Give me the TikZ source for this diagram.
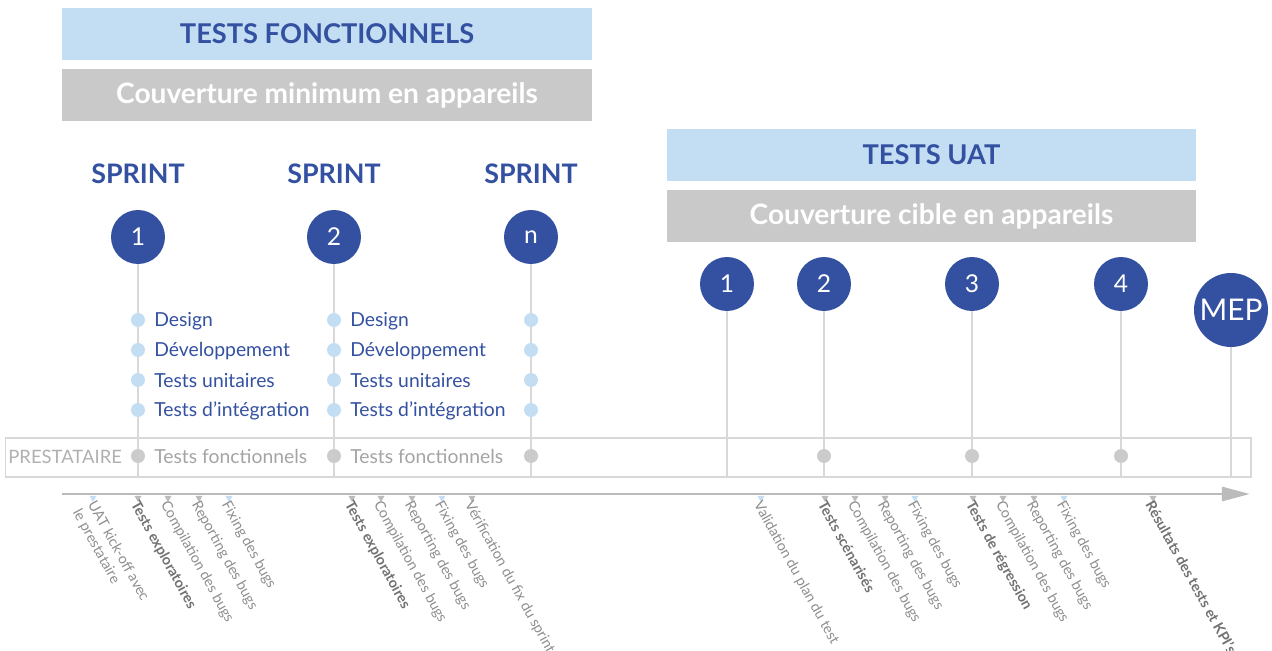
\documentclass[tikz,border=0pt]{standalone}
\usepackage{fontspec}
\setmainfont{Lato}
\usetikzlibrary{arrows.meta,shapes.geometric}
\definecolor{bleufonce}{HTML}{3451A1}
\definecolor{bleuclair}{HTML}{C3DDF3}
\definecolor{grisbox}{HTML}{C9C9C9}
\definecolor{grispuce}{HTML}{CBCBCB}
\definecolor{grisligne}{HTML}{D8D8D8}
\definecolor{grisaxe}{HTML}{BBBBBB}
\definecolor{gristexte}{HTML}{8E8E8E}
\tikzset{
  bandeau/.style={fill=bleuclair, text=bleufonce, minimum width=10.6cm, minimum height=1.04cm,
    inner sep=0pt, font=\bfseries\fontsize{15.5}{15.5}\selectfont},
  couverture/.style={bandeau, fill=grisbox, text=white, font=\bfseries\fontsize{16}{16}\selectfont},
  sprint/.style={text=bleufonce, font=\bfseries\fontsize{15.3}{15.3}\selectfont},
  jalon/.style={circle, fill=bleufonce, text=white, minimum size=1.08cm, inner sep=0pt,
    font=\fontsize{14}{14}\selectfont},
  tige/.style={draw=grisligne, line width=0.9pt},
  puce/.style={circle, fill=#1, minimum size=0.28cm, inner sep=0pt},
  tache/.style={anchor=west, text=bleufonce, inner sep=0pt, font=\fontsize{11}{11}\selectfont},
  repere/.style={regular polygon, regular polygon sides=3, shape border rotate=180,
    fill=#1, minimum size=0.16cm, inner sep=0pt},
  etiq/.style={anchor=north west, rotate=-61, inner sep=0pt, align=left, text=gristexte,
    font=\fontsize{8.2}{9.8}\selectfont},
  etiqgras/.style={etiq, text=gristexte!80!black, font=\bfseries\fontsize{8.2}{9.8}\selectfont}
}
\begin{document}
\begin{tikzpicture}[x=0.02cm,y=-0.02cm]
  \useasboundingbox (0,0) rectangle (1272,651);

  % bandeaux du haut
  \node[bandeau] (tf) at (327,34) {TESTS FONCTIONNELS};
  \node[couverture] (cmin) at (327,95) {Couverture minimum en appareils};
  \node[bandeau] (uat) at (931.5,155) {TESTS UAT};
  \node[couverture] (ccib) at (931.5,216) {Couverture cible en appareils};

  % ligne prestataire
  \node[draw=grisligne, line width=0.7pt, minimum width=24.92cm, minimum height=0.78cm,
    inner sep=0pt] (presta) at (628,457.5) {};
  \node[anchor=west, inner sep=0pt, text=gristexte!70!white, font=\fontsize{10.5}{10.5}\selectfont]
    (pl) at (8,457) {PRESTATAIRE};

  % sprints
  \node[sprint] (sp1) at (138,174) {SPRINT};
  \node[sprint] (sp2) at (334,174) {SPRINT};
  \node[sprint] (spn) at (531,174) {SPRINT};
  \node[jalon] (s1) at (138,237) {1};
  \node[jalon] (s2) at (334,237) {2};
  \node[jalon] (sn) at (531,237) {n};

  % recette UAT
  \node[jalon] (u1) at (727,284) {1};
  \node[jalon] (u2) at (824,284) {2};
  \node[jalon] (u3) at (972,284) {3};
  \node[jalon] (u4) at (1121,284) {4};
  \node[jalon, minimum size=1.48cm, font=\fontsize{17}{17}\selectfont] (mep) at (1231,310) {MEP};

  % tiges
  \draw[tige] (s1) -- (s1 |- presta.south);
  \draw[tige] (s2) -- (s2 |- presta.south);
  \draw[tige] (sn) -- (sn |- presta.south);
  \draw[tige] (u1) -- (u1 |- presta.south);
  \draw[tige] (u2) -- (u2 |- presta.south);
  \draw[tige] (u3) -- (u3 |- presta.south);
  \draw[tige] (u4) -- (u4 |- presta.south);
  \draw[tige] (mep) -- (mep |- presta.south);

  % etapes des sprints
  \foreach \y/\t in {320/Design, 350/Développement, 380/Tests unitaires, 410/Tests d’intégration}{
    \node[puce=bleuclair] (a\y) at (138,\y) {};
    \node[tache] (ta\y) at (154,\y+1) {\t};
    \node[puce=bleuclair] (b\y) at (334,\y) {};
    \node[tache] (tb\y) at (350,\y+1) {\t};
    \node[puce=bleuclair] (c\y) at (531,\y) {};
  }
  \foreach \x in {138,334,531,824,972,1121}
    \node[puce=grispuce] (g\x) at (\x,456) {};
  \node[tache, text=gristexte!80!white] (tf1) at (154,456) {Tests fonctionnels};
  \node[tache, text=gristexte!80!white] (tf2) at (350,456) {Tests fonctionnels};

  % axe du temps
  \coordinate (debut) at (62,494);
  \coordinate (fin) at (1250,494);
  \draw[grisaxe, line width=1.7pt, -{Triangle[length=16pt,width=8pt]}] (debut) -- (fin);

  % reperes et etiquettes
  \node[repere=bleuclair] (r1) at (93,498) {};
  \node[repere=grisaxe] (r2) at (138,498) {};
  \node[repere=grisaxe] (r3) at (168,498) {};
  \node[repere=grisaxe] (r4) at (199,498) {};
  \node[repere=bleuclair] (r5) at (229,498) {};
  \node[repere=grisaxe] (r6) at (352,498) {};
  \node[repere=grisaxe] (r7) at (381,498) {};
  \node[repere=grisaxe] (r8) at (412,498) {};
  \node[repere=bleuclair] (r9) at (442,498) {};
  \node[repere=grisaxe] (r10) at (472,498) {};
  \node[repere=bleuclair] (r11) at (761,498) {};
  \node[repere=grisaxe] (r12) at (825,498) {};
  \node[repere=grisaxe] (r13) at (855,498) {};
  \node[repere=grisaxe] (r14) at (885,498) {};
  \node[repere=bleuclair] (r15) at (915,498) {};
  \node[repere=grisaxe] (r16) at (973,498) {};
  \node[repere=grisaxe] (r17) at (1003,498) {};
  \node[repere=grisaxe] (r18) at (1034,498) {};
  \node[repere=bleuclair] (r19) at (1064,498) {};
  \node[repere=grisaxe] (r20) at (1153,498) {};

  \node[etiq] (e1) at (97,499) {UAT kick-off avec\\le prestataire};
  \node[etiqgras] (e2) at (140,499) {Tests exploratoires};
  \node[etiq] (e3) at (170,499) {Compilation des bugs};
  \node[etiq] (e4) at (201,499) {Reporting des bugs};
  \node[etiq] (e5) at (231,499) {Fixing des bugs};
  \node[etiqgras] (e6) at (354,499) {Tests exploratoires};
  \node[etiq] (e7) at (383,499) {Compilation des bugs};
  \node[etiq] (e8) at (414,499) {Reporting des bugs};
  \node[etiq] (e9) at (444,499) {Fixing des bugs};
  \node[etiq] (e10) at (474,499) {Vérification du fix du sprint 1};
  \node[etiq] (e11) at (763,499) {Validation du plan du test};
  \node[etiqgras] (e12) at (827,499) {Tests scénarisés};
  \node[etiq] (e13) at (857,499) {Compilation des bugs};
  \node[etiq] (e14) at (887,499) {Reporting des bugs};
  \node[etiq] (e15) at (917,499) {Fixing des bugs};
  \node[etiqgras] (e16) at (975,499) {Tests de régression};
  \node[etiq] (e17) at (1005,499) {Compilation des bugs};
  \node[etiq] (e18) at (1036,499) {Reporting des bugs};
  \node[etiq] (e19) at (1066,499) {Fixing des bugs};
  \node[etiqgras] (e20) at (1155,499) {Résultats des tests et KPI’s};
\end{tikzpicture}
\end{document}
